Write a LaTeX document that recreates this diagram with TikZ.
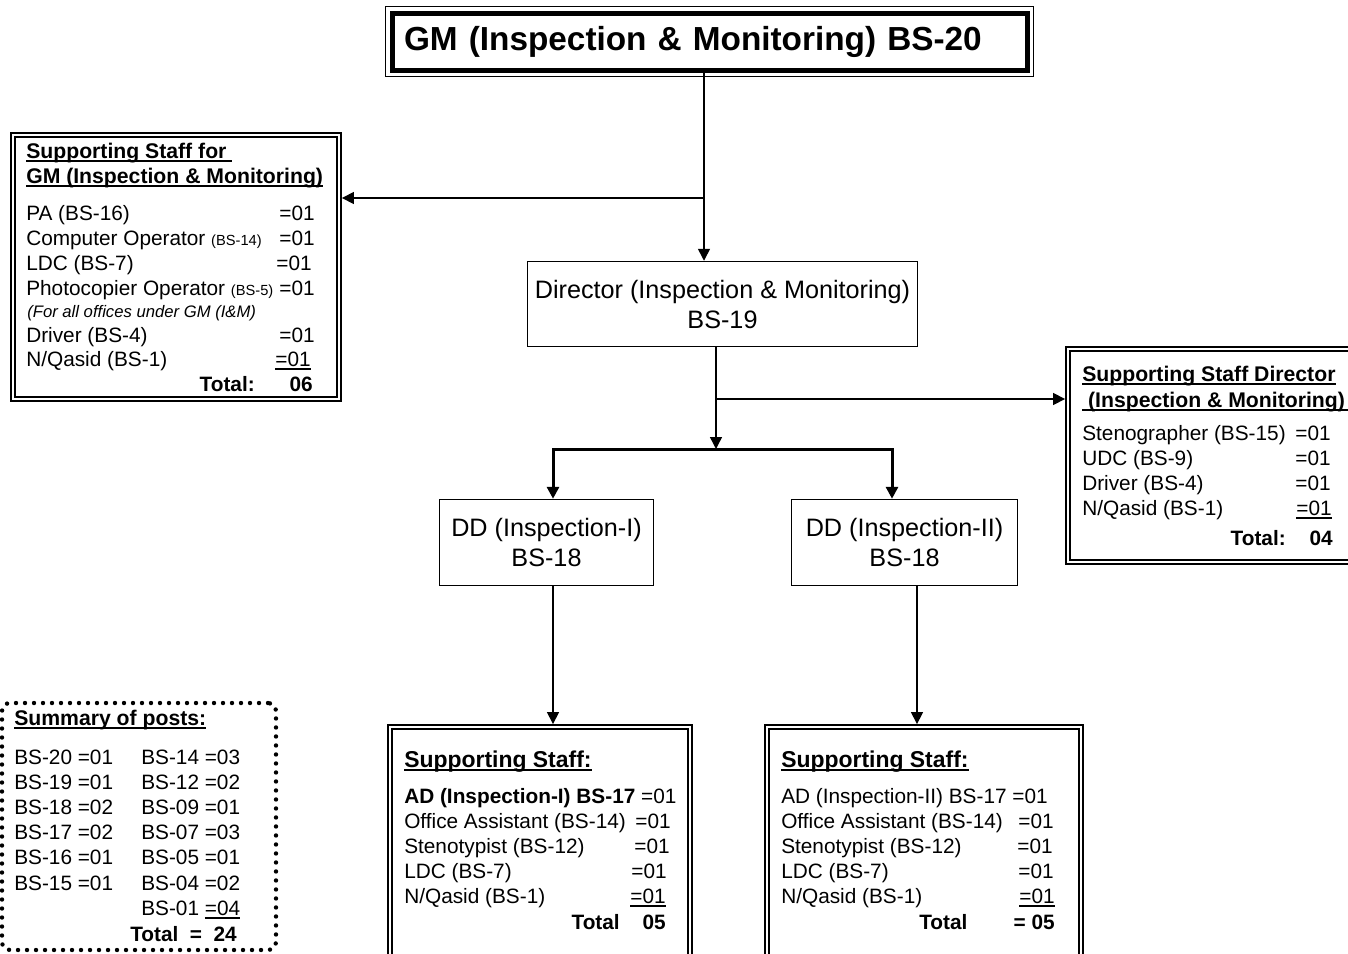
\documentclass[tikz,border=0pt]{standalone}
\usepackage{fontspec}
\setmainfont{Liberation Sans}
\usetikzlibrary{arrows.meta,positioning}

\def\pxunit{0.75pt}
% underline at a fixed depth below the baseline
\newcommand{\ulin}[2][1.5pt]{\leavevmode\setbox0\hbox{#2}\rlap{\vrule width\wd0 height -1.8pt depth \dimexpr1.8pt+#1\relax}\box0}
\newcommand{\smallbs}[1]{{\fontsize{11pt}{13pt}\selectfont #1}}

\tikzset{
  row/.style={font=\fontsize{15.6pt}{18.75pt}\selectfont, inner sep=0pt, anchor=base west},
  rowval/.style={row, anchor=base east},
  rowbold/.style={row, font=\fontsize{15.6pt}{18.75pt}\selectfont\bfseries},
  rowtotal/.style={rowbold, anchor=base east},
  rowhead/.style={row, font=\fontsize{15.9pt}{19pt}\selectfont\bfseries},
  post/.style={draw, line width=1.1pt, align=center, inner sep=0pt, font=\fontsize{18.9pt}{22.5pt}\selectfont},
  staffbox/.style={draw, double, double distance=2.2pt, line width=1.1pt, inner sep=0pt, outer sep=2.2pt},
  dotbox/.style={draw, line width=3.3pt, dash pattern=on 0pt off 6.75pt, line cap=round, rounded corners=6pt, inner sep=0pt},
  link/.style={line width=1.1pt, -{Triangle[length=9pt,width=9pt]}},
  barlink/.style={line width=2.25pt, {Triangle[length=9pt,width=9pt]}-{Triangle[length=9pt,width=9pt]}}
}

\begin{document}
\begin{tikzpicture}[x=\pxunit, y=-\pxunit]
  \useasboundingbox (0,0) rectangle (1348,953);

  % Posts
  \node[draw, line width=3.75pt, outer sep=0pt, inner xsep=12*\pxunit, inner ysep=0pt, minimum height=57*\pxunit,
        text width=611*\pxunit, align=left, font=\fontsize{25pt}{30pt}\selectfont\bfseries] (gm) at (709.5,41.5)
        {GM (Inspection \& Monitoring) BS-20};
  \draw[line width=0.75pt] ([shift={(-6.5,-6.5)}]gm.north west) rectangle ([shift={(6.5,6.5)}]gm.south east);
  \node[post, minimum width=390*\pxunit, minimum height=85*\pxunit] (dir) at (722.5,304) {Director (Inspection \& Monitoring)\\BS-19};
  \node[post, minimum width=214*\pxunit, minimum height=86*\pxunit] (ddone) at (546.5,542.5) {DD (Inspection-I)\\BS-18};
  \node[post, minimum width=226*\pxunit, minimum height=86*\pxunit] (ddtwo) at (904.5,542.5) {DD (Inspection-II)\\BS-18};

  % Supporting staff boxes
  \node[staffbox, minimum width=326*\pxunit, minimum height=264*\pxunit] (gmstaff) at (176,267) {};
  \node[staffbox, minimum width=286*\pxunit, minimum height=213*\pxunit] (dirstaff) at (1211,455.5) {};
  \node[staffbox, minimum width=300*\pxunit, minimum height=235*\pxunit] (ddonestaff) at (540,844.5) {};
  \node[staffbox, minimum width=314*\pxunit, minimum height=235*\pxunit] (ddtwostaff) at (924,844.5) {};
  \node[dotbox, minimum width=274*\pxunit, minimum height=247*\pxunit] (summary) at (139,826.5) {};

  % Connectors
  \coordinate (gmjoin) at (704,198);
  \draw[link] (gm.south -| gmjoin) -- (dir.north -| gmjoin);
  \draw[link] (gmjoin) -- (gmstaff.east |- gmjoin);
  \coordinate (dirjoin) at (716,399);
  \coordinate (ddbar) at (716,449);
  \draw[link] (dir.south -| dirjoin) -- (ddbar);
  \draw[link] (dirjoin) -- (dirstaff.west |- dirjoin);
  \coordinate (barleft) at (553,449);
  \coordinate (barright) at (892,449);
  \draw[barlink] (ddone.north -| barleft) -- (barleft) -- (barright) -- (ddtwo.north -| barright);
  \draw[link] (ddone.south -| barleft) -- (ddonestaff.north -| barleft);
  \coordinate (ddtwodrop) at (917,655);
  \draw[link] (ddtwo.south -| ddtwodrop) -- (ddtwostaff.north -| ddtwodrop);

  % Supporting staff for GM
  \node[rowhead] (gmhead) at (26,158) {\ulin{Supporting Staff for }};
  \node[rowhead] (gmsub) at (26,183) {\ulin{GM (Inspection \& Monitoring)}};
  \foreach \lbl/\yy/\xr [count=\i] in {{PA (BS-16)}/220/315, {Computer Operator \smallbs{(BS-14)}}/245/315,
      {LDC (BS-7)}/270/312, {Photocopier Operator \smallbs{(BS-5)}}/295/315, {Driver (BS-4)}/342/315}
  {
    \node[row] (gmrow\i) at (26,\yy) {\lbl};
    \node[rowval] (gmval\i) at (\xr,\yy) {=01};
  }
  \node[row, font=\fontsize{12.5pt}{15pt}\selectfont\itshape] (gmnote) at (27,317) {(For all offices under GM (I\&M)};
  \node[row] (gmlast) at (26,366) {N/Qasid (BS-1)};
  \node[rowval] (gmlastval) at (311,366) {\ulin[1.1pt]{=01}};
  \node[rowtotal] (gmtotal) at (255,391) {Total:};
  \node[rowtotal] (gmsum) at (313,391) {06};

  % Supporting staff for Director
  \node[rowhead] (dirhead) at (1082,381) {\ulin{Supporting Staff Director}};
  \node[rowhead] (dirsub) at (1082,407) {\ulin{ (Inspection \& Monitoring) }};
  \foreach \lbl/\yy [count=\i] in {{Stenographer (BS-15)}/440, {UDC (BS-9)}/465, {Driver (BS-4)}/490}
  {
    \node[row] (dirrow\i) at (1082,\yy) {\lbl};
    \node[rowval] (dirval\i) at (1331,\yy) {=01};
  }
  \node[row] (dirlast) at (1082,515) {N/Qasid (BS-1)};
  \node[rowval] (dirlastval) at (1332,515) {\ulin[1.1pt]{=01}};
  \node[rowtotal] (dirtotal) at (1286,545) {Total:};
  \node[rowtotal] (dirsum) at (1333,545) {04};

  % Supporting staff for DD (Inspection-I)
  \node[rowhead, font=\fontsize{17.2pt}{20pt}\selectfont\bfseries] (ddonehead) at (404,767) {\ulin{Supporting Staff:}};
  \node[row] (ddonead) at (404,803) {\textbf{AD (Inspection-I) BS-17} =01};
  \foreach \lbl/\yy/\xr [count=\i] in {{Office Assistant (BS-14)}/828/671, {Stenotypist (BS-12)}/853/670, {LDC (BS-7)}/878/667}
  {
    \node[row] (ddonerow\i) at (404,\yy) {\lbl};
    \node[rowval] (ddoneval\i) at (\xr,\yy) {=01};
  }
  \node[row] (ddonelast) at (404,903) {N/Qasid (BS-1)};
  \node[rowval] (ddonelastval) at (666,903) {\ulin[1.1pt]{=01}};
  \node[rowtotal] (ddonetotal) at (620,929) {Total};
  \node[rowtotal] (ddonesum) at (666,929) {05};

  % Supporting staff for DD (Inspection-II)
  \node[rowhead, font=\fontsize{17.2pt}{20pt}\selectfont\bfseries] (ddtwohead) at (781,767) {\ulin{Supporting Staff:}};
  \node[row] (ddtwoad) at (781,803) {AD (Inspection-II) BS-17 =01};
  \foreach \lbl/\yy/\xr [count=\i] in {{Office Assistant (BS-14)}/828/1054, {Stenotypist (BS-12)}/853/1053, {LDC (BS-7)}/878/1054}
  {
    \node[row] (ddtworow\i) at (781,\yy) {\lbl};
    \node[rowval] (ddtwoval\i) at (\xr,\yy) {=01};
  }
  \node[row] (ddtwolast) at (781,903) {N/Qasid (BS-1)};
  \node[rowval] (ddtwolastval) at (1055,903) {\ulin[1.1pt]{=01}};
  \node[rowbold] (ddtwototal) at (919,929) {Total};
  \node[rowtotal] (ddtwosum) at (1055,929) {= 05};

  % Summary of posts
  \node[rowhead] (sumhead) at (14,725) {\ulin{Summary of posts:}};
  \foreach \ca/\cb/\yy [count=\i] in {{BS-20 =01}/{BS-14 =03}/764, {BS-19 =01}/{BS-12 =02}/789, {BS-18 =02}/{BS-09 =01}/814,
      {BS-17 =02}/{BS-07 =03}/839, {BS-16 =01}/{BS-05 =01}/864, {BS-15 =01}/{BS-04 =02}/890}
  {
    \node[row] (suma\i) at (14,\yy) {\ca};
    \node[row] (sumb\i) at (141,\yy) {\cb};
  }
  \node[row] (sumlast) at (141,915) {BS-01 \ulin[1.1pt]{=04}};
  \node[rowbold] (sumtotal) at (130,941) {Total\ \ =\ \ 24};
\end{tikzpicture}
\end{document}
